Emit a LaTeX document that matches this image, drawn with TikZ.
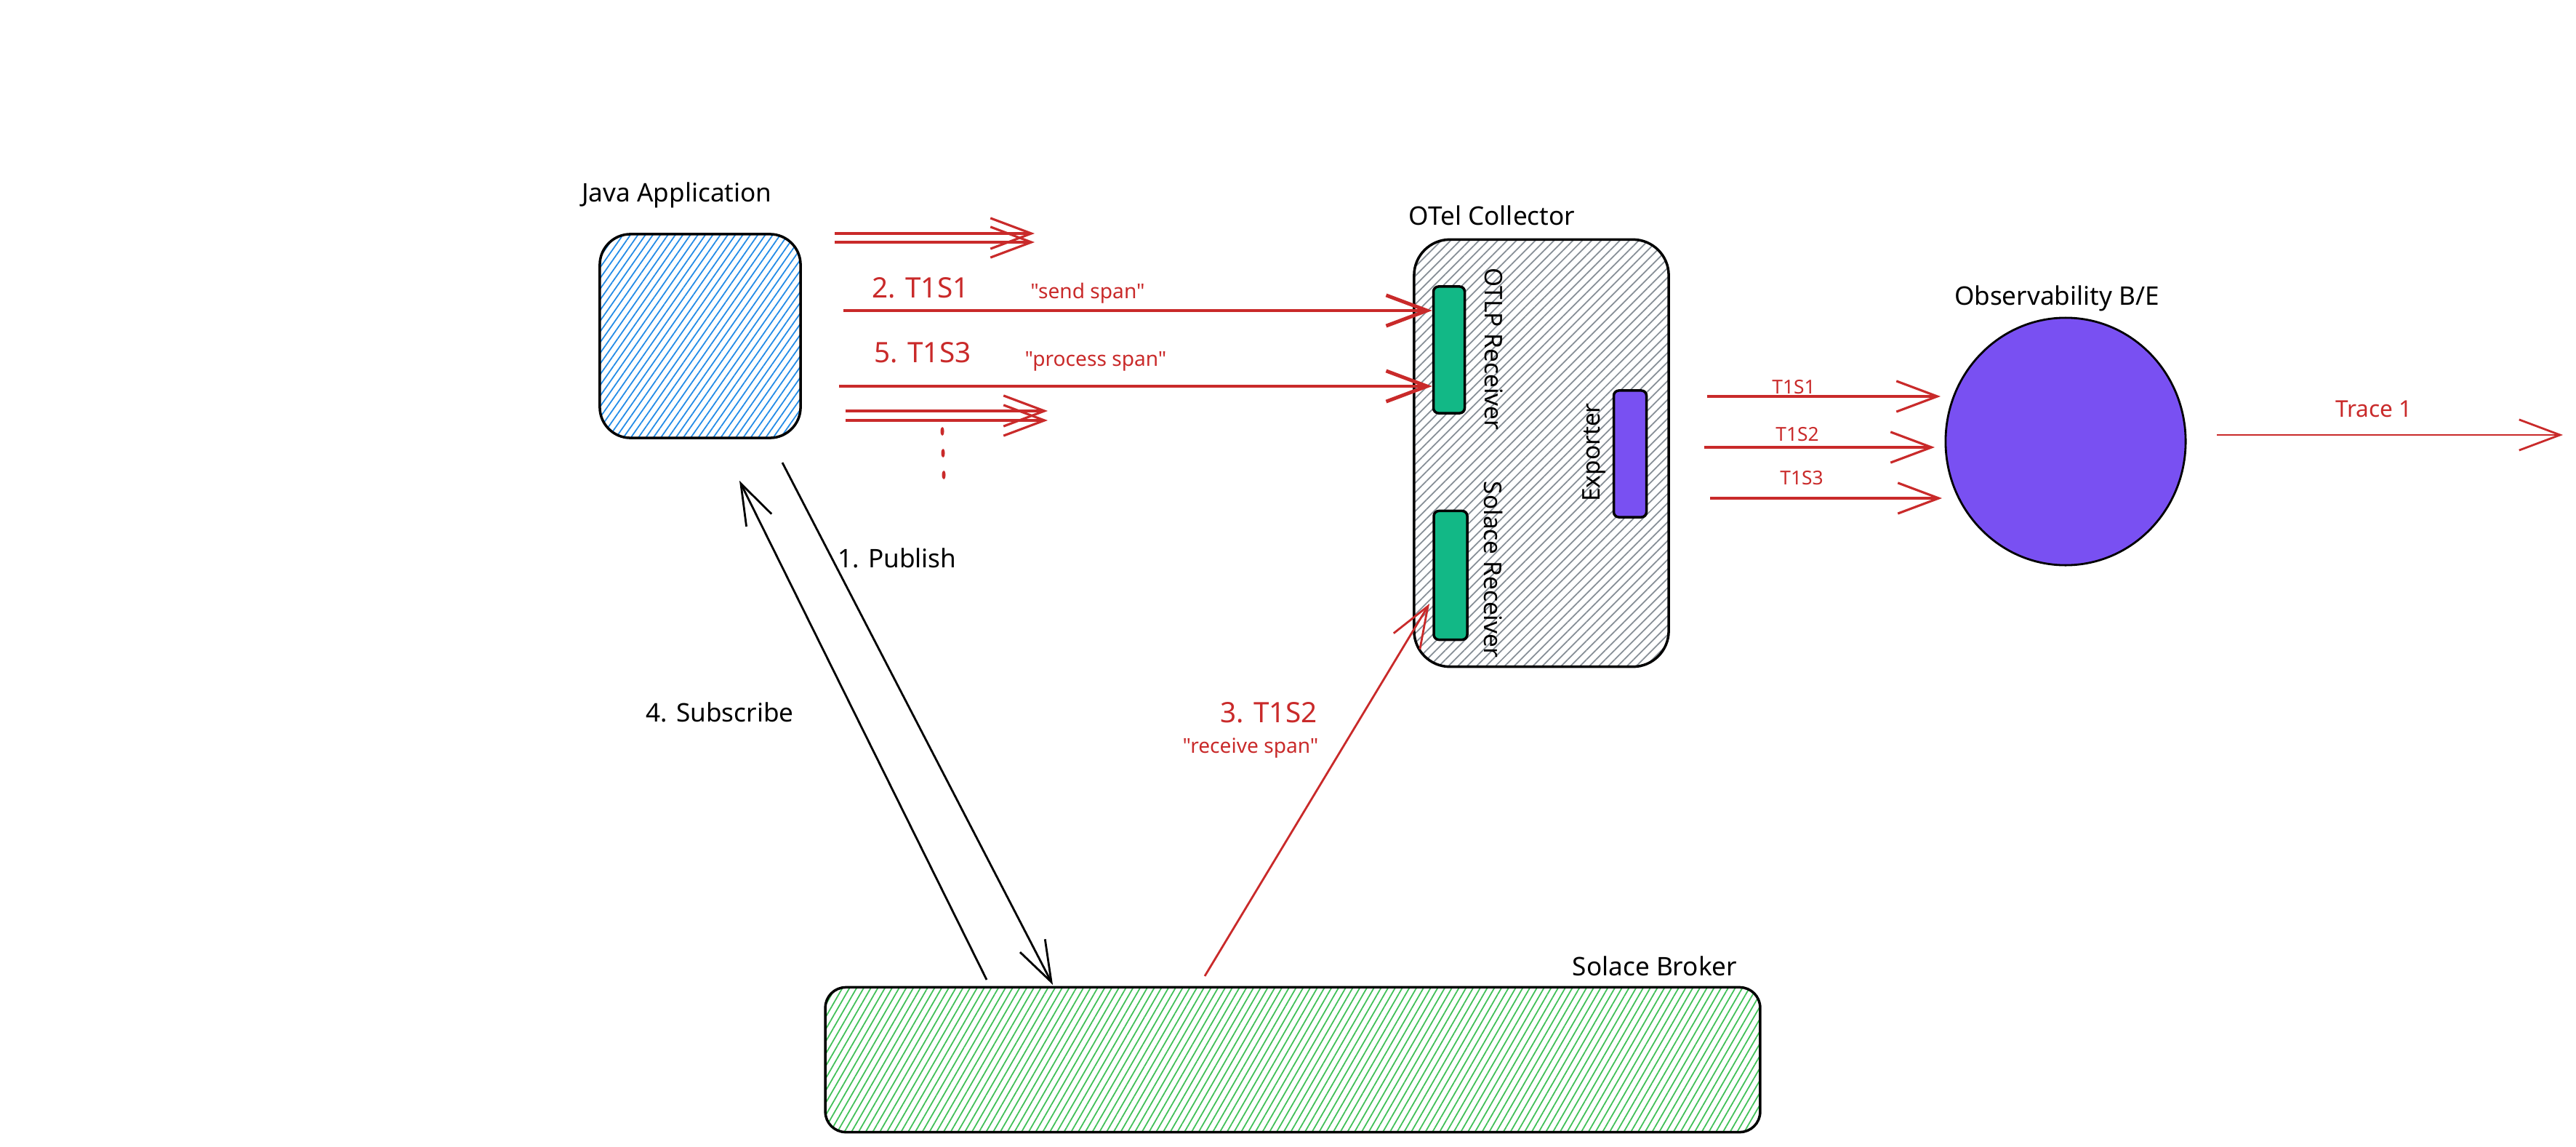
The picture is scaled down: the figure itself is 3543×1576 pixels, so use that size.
\documentclass[tikz,border=0pt]{standalone}
\usepackage{fontspec}
\newfontfamily\nf{Noto Sans}
\usetikzlibrary{arrows.meta,patterns.meta,shapes.geometric}
\definecolor{xred}{HTML}{C92A2A}
\definecolor{xblue}{HTML}{228BE6}
\definecolor{xgray}{HTML}{868E96}
\definecolor{xgreen}{HTML}{40C057}
\definecolor{xteal}{HTML}{12B886}
\definecolor{xviolet}{HTML}{7950F2}
\begin{document}
\begin{tikzpicture}[x=0.01cm,y=-0.01cm,
  box/.style={draw=black, line width=1pt, inner sep=0pt},
  blk/.style={font=\nf\fontsize{10}{12}\selectfont, text=black, inner sep=0pt},
  rotlbl/.style={font=\nf\fontsize{9.5}{11}\selectfont, text=black, inner sep=0pt},
  redbig/.style={font=\nf\fontsize{11}{13}\selectfont, text=xred, inner sep=0pt},
  redsmall/.style={font=\nf\fontsize{8}{10}\selectfont, text=xred, inner sep=0pt},
  redtiny/.style={font=\nf\fontsize{7.5}{9}\selectfont, text=xred, inner sep=0pt},
  flow/.style={draw=xred, line width=0.9pt, -{Straight Barb[length=16pt,width=12pt]}},
  flowbig/.style={flow, line width=1.4pt},
  msg/.style={draw=black, line width=0.8pt, -{Straight Barb[length=16pt,width=11pt]}}
]
\useasboundingbox (0,0) rectangle (3543,1576);

% containers
\node[box, rounded corners=12pt, minimum width=2.76cm, minimum height=2.80cm,
      pattern={Lines[angle=55,distance=2.4pt,line width=0.5pt]}, pattern color=xblue] (java) at (963,462) {};
\node[blk] (javalbl) at (931,268) {Java Application};

\node[box, rounded corners=14pt, minimum width=3.50cm, minimum height=5.87cm,
      pattern={Lines[angle=45,distance=2.6pt,line width=0.5pt]}, pattern color=xgray] (otel) at (2120,623) {};
\node[blk] (otellbl) at (2052,296) {OTel Collector};

\node[box, rounded corners=2pt, fill=xteal, minimum width=0.43cm, minimum height=1.74cm] (otlp) at (1993,481) {};
\node[box, rounded corners=2pt, fill=xteal, minimum width=0.46cm, minimum height=1.77cm] (solrec) at (1995,791) {};
\node[box, rounded corners=2pt, fill=xviolet, minimum width=0.45cm, minimum height=1.74cm] (exporter) at (2242,624) {};
\node[rotlbl, rotate=-90] (otlplbl) at (2055,480) {OTLP Receiver};
\node[rotlbl, rotate=-90] (solreclbl) at (2054,783) {Solace Receiver};
\node[rotlbl, rotate=90] (exporterlbl) at (2193,622) {Exporter};

\node[draw=black, line width=0.8pt, ellipse, fill=xviolet, inner sep=0pt,
      minimum width=3.30cm, minimum height=3.40cm] (obs) at (2841,607) {};
\node[blk] (obslbl) at (2829,410) {Observability B/E};

\node[box, rounded corners=8pt, minimum width=12.85cm, minimum height=1.99cm,
      pattern={Lines[angle=60,distance=2.4pt,line width=0.5pt]}, pattern color=xgreen] (broker) at (1778,1457) {};
\node[blk] (brokerlbl) at (2276,1328) {Solace Broker};

% spans from application to collector
\coordinate (u1s) at (1148,321); \coordinate (u1e) at (1423,321);
\coordinate (u2s) at (1148,333); \coordinate (u2e) at (1423,333);
\draw[flow] (u1s) -- (u1e);
\draw[flow] (u2s) -- (u2e);

\coordinate (s1) at (1160,427);
\draw[flowbig] (s1) -- (s1 -| otlp.west);
\node[redbig] (s1lbl) at (1266,396) {2. T1S1};
\node[redsmall] (s1txt) at (1496,403) {"send span"};

\coordinate (s3) at (1154,531);
\draw[flowbig] (s3) -- (s3 -| otlp.west);
\node[redbig] (s3lbl) at (1269,485) {5. T1S3};
\node[redsmall] (s3txt) at (1507,497) {"process span"};

\coordinate (d1s) at (1163,565); \coordinate (d1e) at (1441,565);
\coordinate (d2s) at (1163,578); \coordinate (d2e) at (1441,578);
\draw[flow] (d1s) -- (d1e);
\draw[flow] (d2s) -- (d2e);

\fill[xred] (1296,593) ellipse [x radius=0.025cm, y radius=0.06cm];
\fill[xred] (1297,623) ellipse [x radius=0.025cm, y radius=0.06cm];
\fill[xred] (1298,653) ellipse [x radius=0.025cm, y radius=0.06cm];

% publish / subscribe
\coordinate (p0) at (1076,636); \coordinate (p1) at (1448,1354);
\draw[msg] (p0) -- (p1);
\node[blk] (publbl) at (1234,767) {1. Publish};
\coordinate (q0) at (1357,1347); \coordinate (q1) at (1017,661);
\draw[msg] (q0) -- (q1);
\node[blk] (sublbl) at (990,979) {4. Subscribe};

% receive span
\coordinate (r0) at (1657,1342); \coordinate (r1) at (1966,830);
\draw[flow, line width=0.8pt] (r0) -- (r1);
\node[redbig] (r1lbl) at (1745,980) {3. T1S2};
\node[redsmall] (r1txt) at (1720,1028) {"receive span"};

% exporter to backend
\coordinate (e1s) at (2348,545); \coordinate (e1e) at (2669,545);
\coordinate (e2s) at (2344,615); \coordinate (e2e) at (2661,615);
\coordinate (e3s) at (2352,685); \coordinate (e3e) at (2671,685);
\draw[flow] (e1s) -- (e1e);
\draw[flow] (e2s) -- (e2e);
\draw[flow] (e3s) -- (e3e);
\node[redtiny] (e1lbl) at (2467,532) {T1S1};
\node[redtiny] (e2lbl) at (2472,597) {T1S2};
\node[redtiny] (e3lbl) at (2478,657) {T1S3};

% trace out
\coordinate (t0) at (3049,598); \coordinate (t1) at (3525,598);
\draw[flow, line width=0.8pt] (t0) -- (t1);
\node[redsmall, font=\nf\fontsize{9}{11}\selectfont] (tlbl) at (3265,562) {Trace 1};
\end{tikzpicture}
\end{document}
